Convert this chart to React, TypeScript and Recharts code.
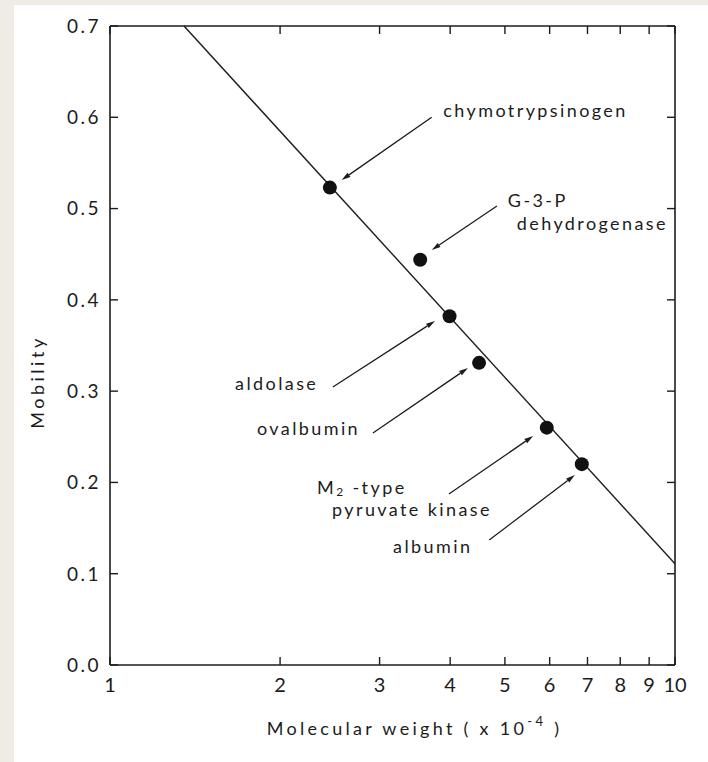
import React from 'react';
import { ComposedChart, XAxis, YAxis, Line, Scatter, ReferenceLine, ReferenceDot } from 'recharts';

// Proteins used as markers (molecular weight in units of 10^4)
const proteins = ['chymotrypsinogen', 'G-3-P dehydrogenase', 'aldolase', 'ovalbumin', 'M2-type pyruvate kinase', 'albumin'];
const molecularWeights = [2.45, 3.54, 3.99, 4.5, 5.93, 6.84];
const mobilities = [0.523, 0.444, 0.382, 0.331, 0.26, 0.22];

// fitted calibration line
const fitWeights = [1.352, 10];
const fitMobilities = [0.7, 0.111];

const xTicks = [1, 2, 3, 4, 5, 6, 7, 8, 9, 10];
const yTicks = [0, 0.1, 0.2, 0.3, 0.4, 0.5, 0.6, 0.7];

// annotation labels (anchored at start, baseline of first line); '\n' splits lines
const labelTexts = ['chymotrypsinogen', 'G-3-P\ndehydrogenase', 'aldolase', 'ovalbumin', 'M2 -type\npyruvate kinase', 'albumin'];
const labelWeights = [3.89, 5.06, 1.665, 1.82, 2.325, 3.17];
const labelMobilities = [0.6006, 0.502, 0.3012, 0.2519, 0.1873, 0.1227];

// annotation arrows: tail -> head
const arrowFromWeights = [3.71, 4.84, 2.48, 2.92, 3.98, 4.69];
const arrowFromMobilities = [0.6, 0.5028, 0.3045, 0.2541, 0.1873, 0.1369];
const arrowToWeights = [2.57, 3.71, 3.76, 4.3, 5.61, 6.65];
const arrowToMobilities = [0.5313, 0.4546, 0.3768, 0.3253, 0.2508, 0.2081];

const INK = '#1c1c1c';
const FONT = 'Lato, "DejaVu Sans", sans-serif';

// plot frame (set by the chart margins below)
const PLOT_LEFT = 110;
const PLOT_RIGHT = 675;
const PLOT_TOP = 26;
const PLOT_BOTTOM = 665;
const TICK_LEN = 8;

const points = proteins.map((name, i) => ({ name, mw: molecularWeights[i], mobility: mobilities[i] }));
const fitLine = fitWeights.map((mw, i) => ({ mw, mobility: fitMobilities[i] }));

function Arrow(props: any) {
  const { x1, y1, x2, y2 } = props;
  const ang = Math.atan2(y2 - y1, x2 - x1);
  const len = 9;
  const half = 2.5;
  const bx = x2 - len * Math.cos(ang);
  const by = y2 - len * Math.sin(ang);
  const px = -Math.sin(ang) * half;
  const py = Math.cos(ang) * half;
  return (
    <g>
      <line x1={x1} y1={y1} x2={bx} y2={by} stroke={INK} strokeWidth={1.3} />
      <polygon points={`${x2},${y2} ${bx + px},${by + py} ${bx - px},${by - py}`} fill={INK} />
    </g>
  );
}

function LabelText({ cx, cy, text }: any) {
  const lines = text.split('\n');
  const isM2 = lines[0].startsWith('M2');
  const gap = isM2 ? 22 : 23;
  return (
    <text x={cx} y={cy} fill={INK} fontSize={18} fontFamily={FONT} letterSpacing={2.4}>
      {lines.map((ln: string, i: number) => {
        const first = i === 0;
        const indent = first ? 0 : isM2 ? 15 : 9;
        if (ln.startsWith('M2')) {
          return (
            <React.Fragment key={i}>
              <tspan x={cx + indent} dy={first ? 0 : gap}>M</tspan>
              <tspan fontSize={12} dy={2}>2</tspan>
              <tspan dy={-2}>{ln.slice(2)}</tspan>
            </React.Fragment>
          );
        }
        return (
          <tspan key={i} x={cx + indent} dy={first ? 0 : gap}>
            {ln}
          </tspan>
        );
      })}
    </text>
  );
}

function XTick(props: any) {
  const { x, y, payload } = props;
  const cx = payload.coordinate;
  return (
    <g>
      <line x1={cx} y1={PLOT_BOTTOM} x2={cx} y2={PLOT_BOTTOM - TICK_LEN} stroke={INK} strokeWidth={1.4} />
      <line x1={cx} y1={PLOT_TOP} x2={cx} y2={PLOT_TOP + TICK_LEN} stroke={INK} strokeWidth={1.4} />
      <text x={x} y={y} dy="0.72em" textAnchor="middle" fill={INK} fontSize={20} fontFamily={FONT}>
        {String(payload.value)}
      </text>
    </g>
  );
}

function YTick(props: any) {
  const { x, y, payload } = props;
  const cy = payload.coordinate;
  return (
    <g>
      <line x1={PLOT_LEFT} y1={cy} x2={PLOT_LEFT + TICK_LEN} y2={cy} stroke={INK} strokeWidth={1.4} />
      <line x1={PLOT_RIGHT} y1={cy} x2={PLOT_RIGHT - TICK_LEN} y2={cy} stroke={INK} strokeWidth={1.4} />
      <text x={x} y={y} dy="0.36em" textAnchor="end" fill={INK} fontSize={19} fontFamily={FONT} letterSpacing={2.5}>
        {Number(payload.value).toFixed(1)}
      </text>
    </g>
  );
}

export default function App() {
  return (
    <div style={{ position: 'absolute', left: 0, top: 0, width: 708, height: 762, background: '#f1ebe5' }}>
      <div style={{ position: 'absolute', left: 14, top: 5, right: 0, bottom: 0, background: '#ffffff' }} />
      <div style={{ position: 'absolute', left: 0, top: 0 }}>
        <ComposedChart width={708} height={762} margin={{ top: PLOT_TOP, right: 708 - PLOT_RIGHT, bottom: 0, left: 0 }}>
          <XAxis
            dataKey="mw"
            type="number"
            scale="log"
            domain={[1, 10]}
            ticks={xTicks}
            allowDataOverflow
            interval={0}
            height={762 - PLOT_BOTTOM}
            stroke={INK}
            strokeWidth={1.6}
            tickLine={false}
            tickSize={0}
            tickMargin={13}
            tick={(p: any) => <XTick {...p} />}
            label={(p: any) => {
              const vb = p.viewBox || { x: PLOT_LEFT, y: PLOT_BOTTOM, width: PLOT_RIGHT - PLOT_LEFT };
              const cx = vb.x + vb.width / 2 + 22;
              const cy = vb.y + 70;
              return (
                <text x={cx} y={cy} textAnchor="middle" fill={INK} fontSize={18} fontFamily={FONT} letterSpacing={3.3}>
                  <tspan>Molecular weight ( x 10</tspan>
                  <tspan fontSize={13} dy={-9}>-4</tspan>
                  <tspan dy={9}> )</tspan>
                </text>
              );
            }}
          />
          <YAxis
            type="number"
            domain={[0, 0.7]}
            ticks={yTicks}
            interval={0}
            width={PLOT_LEFT}
            stroke={INK}
            strokeWidth={1.6}
            tickLine={false}
            tickSize={0}
            tickMargin={9}
            tick={(p: any) => <YTick {...p} />}
            label={() => {
              const cx = 37;
              const cy = 382;
              return (
                <text
                  x={cx}
                  y={cy}
                  transform={`rotate(-90, ${cx}, ${cy})`}
                  textAnchor="middle"
                  dominantBaseline="central"
                  fill={INK}
                  fontSize={18}
                  fontFamily={FONT}
                  letterSpacing={3.5}
                >
                  Mobility
                </text>
              );
            }}
          />
          {/* top and right sides of the frame */}
          <ReferenceLine y={0.7} stroke={INK} strokeWidth={1.6} />
          <ReferenceLine x={10} stroke={INK} strokeWidth={1.6} />
          <Line
            data={fitLine}
            dataKey="mobility"
            type="linear"
            stroke={INK}
            strokeWidth={1.4}
            dot={false}
            activeDot={false}
            isAnimationActive={false}
          />
          <Scatter
            data={points}
            dataKey="mobility"
            isAnimationActive={false}
            shape={(p: any) => <circle cx={p.cx} cy={p.cy} r={7} fill="#111" />}
          />
          {arrowFromWeights.map((w, i) => (
            <ReferenceLine
              key={`arrow-${i}`}
              segment={[
                { x: w, y: arrowFromMobilities[i] },
                { x: arrowToWeights[i], y: arrowToMobilities[i] },
              ]}
              shape={(p: any) => <Arrow {...p} />}
            />
          ))}
          {labelTexts.map((t, i) => (
            <ReferenceDot
              key={`label-${i}`}
              x={labelWeights[i]}
              y={labelMobilities[i]}
              r={0}
              shape={(p: any) => <LabelText cx={p.cx} cy={p.cy} text={t} />}
            />
          ))}
        </ComposedChart>
      </div>
    </div>
  );
}
